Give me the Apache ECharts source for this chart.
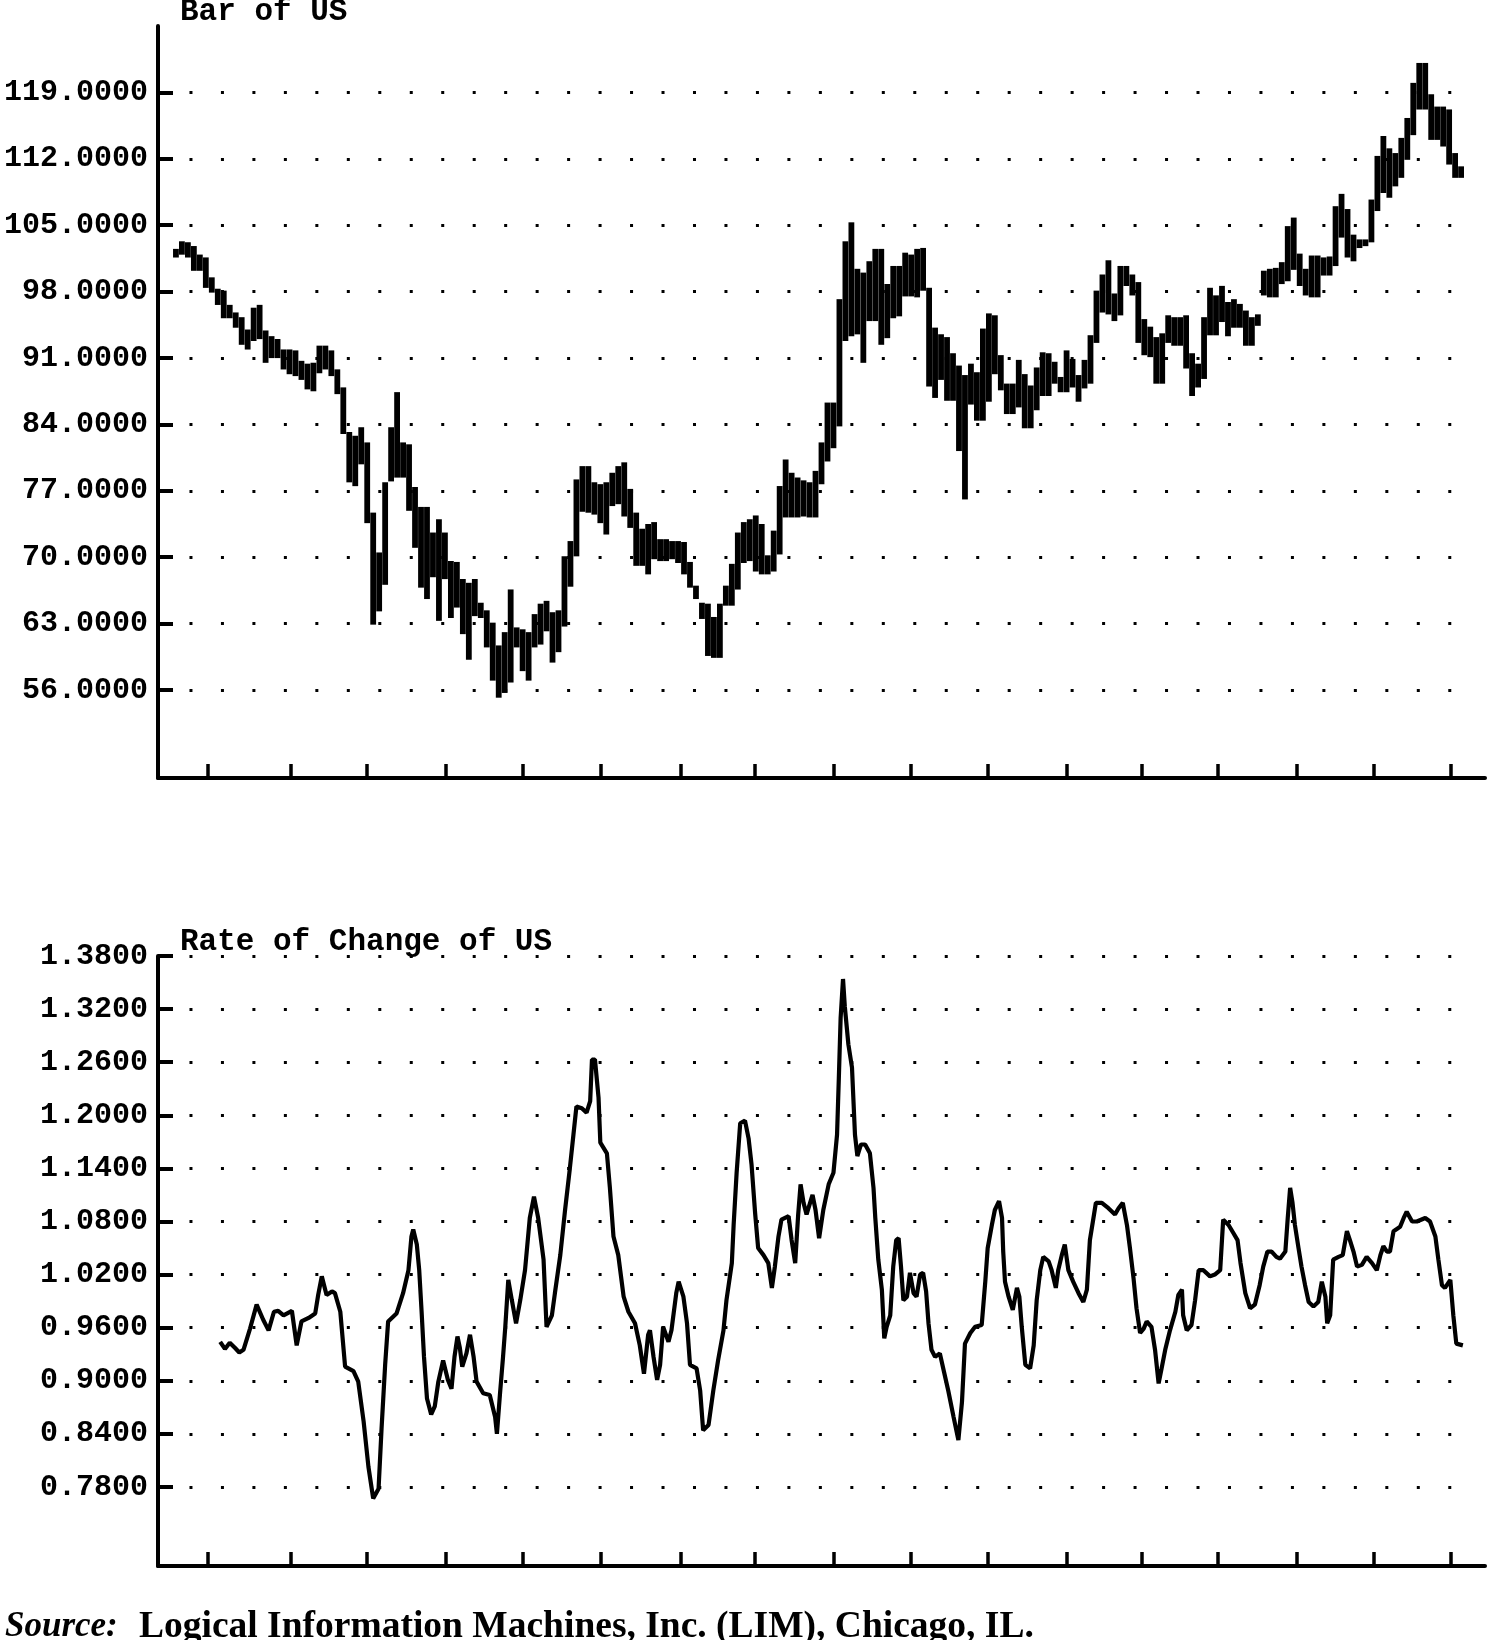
<!DOCTYPE html>
<html><head><meta charset="utf-8">
<script src="https://cdn.jsdelivr.net/npm/echarts@6/dist/echarts.min.js"></script>
<style>html,body{margin:0;padding:0;background:#fff}#c{width:1504px;height:1640px}</style>
</head><body><div id="c"></div>
<script>
// Weekly bars (week index 0..215): high / low prices
const barHigh = [102.4,103.2,103.1,102.7,101.8,101.5,99.4,98.2,98.0,96.5,95.7,95.2,93.9,96.2,96.5,93.8,93.2,92.9,91.8,91.8,
91.7,90.6,90.3,90.4,92.2,92.2,91.7,89.7,87.8,83.1,82.7,83.6,82.0,74.6,70.4,77.8,83.6,87.3,82.0,81.8,
77.3,75.2,75.2,72.5,73.9,72.5,69.5,69.4,67.6,67.2,67.6,65.1,64.3,63.0,60.6,62.0,66.5,62.5,62.3,62.0,
63.9,65.0,65.3,64.1,64.3,70.0,71.6,78.1,79.5,79.5,77.8,77.6,77.8,78.8,79.5,79.9,77.1,74.6,72.9,73.4,
73.6,71.8,71.8,71.6,71.6,71.5,69.4,66.9,65.1,65.0,63.6,65.0,66.9,69.2,72.5,73.6,73.9,74.3,73.4,70.1,
72.7,77.4,80.2,78.8,78.3,78.0,77.8,79.0,82.0,86.2,86.2,97.1,103.2,105.2,100.3,99.9,101.1,102.4,102.4,98.7,
100.6,100.6,102.0,101.8,102.4,102.5,98.3,94.1,93.4,93.1,91.4,90.1,89.1,90.3,89.4,94.0,95.6,95.4,91.2,88.2,
88.2,90.7,89.2,88.0,89.9,91.5,91.4,90.5,88.9,91.7,90.8,89.1,90.7,93.3,98.0,99.7,101.2,97.7,100.6,100.6,
99.7,98.9,95.0,94.2,93.1,93.5,95.4,95.2,95.2,95.4,91.4,90.3,95.2,98.3,97.5,98.5,96.8,97.1,96.6,95.9,
95.2,95.5,100.1,100.3,100.4,101.0,104.8,105.7,101.9,100.3,101.7,101.7,101.5,101.6,106.9,108.2,106.6,103.9,103.4,103.4,
107.6,112.2,114.3,113.0,112.5,114.1,116.2,119.9,122.0,122.0,118.7,117.4,117.4,117.1,112.5,111.1];
const barLow = [101.7,102.0,101.7,100.3,100.3,98.5,98.0,96.7,95.3,95.3,94.3,92.5,92.0,92.9,93.1,90.6,91.1,91.1,89.9,89.4,
89.2,88.8,87.8,87.6,89.5,89.9,89.2,87.3,83.1,78.0,77.6,79.9,73.7,63.0,64.4,67.2,78.1,78.5,78.5,75.0,
71.1,66.9,65.7,68.0,63.4,67.8,63.7,64.8,62.0,59.3,63.9,63.7,60.6,57.1,55.3,55.8,56.9,60.6,58.1,57.1,
60.6,60.9,62.3,59.0,60.1,62.8,67.0,70.2,74.9,74.8,74.6,73.7,72.5,75.5,75.7,74.4,73.2,69.2,69.2,68.3,
69.9,69.7,69.7,69.9,69.5,68.3,66.9,65.7,63.6,59.7,59.5,59.5,65.0,65.0,66.7,69.5,69.7,68.6,68.3,68.3,
68.6,70.4,74.3,74.3,74.3,74.4,74.3,74.3,77.8,80.2,81.6,83.9,92.9,93.4,93.6,90.6,95.0,95.0,92.5,93.2,
95.3,95.5,97.6,97.6,97.5,98.2,88.1,86.9,88.8,86.6,86.6,81.3,76.2,86.2,84.5,84.5,86.5,89.4,87.7,85.2,
85.2,85.9,83.7,83.7,85.6,87.1,87.1,88.4,87.5,87.5,88.0,86.5,87.9,88.4,92.7,95.9,95.7,95.0,95.6,98.7,
97.7,92.7,91.4,91.2,88.4,88.4,92.7,92.4,92.4,90.0,87.1,88.0,88.9,93.5,93.5,94.9,93.4,94.3,94.3,92.4,
92.4,94.5,97.7,97.5,97.5,98.9,99.2,100.4,98.7,97.7,97.5,97.5,99.8,99.8,100.8,103.8,101.7,101.3,102.7,102.9,
103.3,106.6,108.5,108.0,109.2,110.1,112.0,114.6,117.3,117.3,114.1,114.1,113.4,111.5,110.1,110.1];

// Rate of change (week position, value)
const rocWeek = [7.4,8.2,9.0,9.9,10.6,11.3,12.4,13.5,14.6,15.5,16.4,17.1,18.0,19.4,20.2,21.0,22.2,23.3,23.8,24.4,
25.2,26.1,26.6,27.5,28.3,29.7,30.5,31.4,32.2,33.0,33.9,34.4,35.0,35.5,36.9,38.0,38.9,39.4,39.7,40.3,
40.7,41.1,41.5,42.0,42.7,43.3,43.9,44.7,45.5,46.1,46.6,47.1,47.5,47.9,48.6,49.2,49.8,50.3,51.4,52.5,
53.4,53.7,54.2,54.7,55.1,55.6,56.2,56.9,57.6,58.4,59.2,59.9,60.6,61.5,62.0,62.9,63.4,64.3,65.1,65.9,
66.5,67.0,67.9,68.7,69.3,69.6,70.1,70.7,71.0,72.1,72.6,73.2,74.0,74.9,75.7,76.8,77.6,78.3,79.0,79.3,
79.9,80.5,81.0,81.5,82.4,82.9,83.7,84.1,84.9,85.5,86.0,87.1,87.7,88.2,89.1,89.9,90.7,91.6,92.1,93.0,
93.3,93.8,94.4,95.2,95.8,96.3,96.9,97.4,98.3,99.1,99.7,100.2,100.8,101.3,102.5,103.0,103.6,104.1,104.5,105.0,
105.5,106.5,107.0,107.6,108.3,109.2,110.0,110.6,110.9,111.2,111.6,111.9,112.5,113.1,113.6,114.0,114.6,115.3,116.1,116.7,
117.0,117.5,118.1,118.5,118.9,119.5,120.0,120.5,120.9,121.3,121.7,122.3,122.8,123.4,123.9,124.5,125.0,125.5,125.9,126.4,
127.0,127.8,128.5,129.2,130.1,130.9,131.5,132.0,132.9,133.7,134.8,135.4,135.8,136.5,137.0,137.7,138.2,138.4,138.7,139.3,
140.0,140.7,141.1,141.5,142.1,142.9,143.5,144.0,144.6,145.1,146.0,146.5,147.2,147.6,148.2,148.7,149.3,150.1,151.0,151.8,
152.4,152.9,153.5,153.9,154.9,156.0,157.1,157.7,158.4,159.1,159.6,160.2,160.7,161.3,161.9,162.4,163.2,163.8,164.4,164.9,
165.5,166.3,167.2,167.7,168.3,168.5,169.1,169.9,170.5,171.1,171.9,173.0,173.8,174.7,175.2,176.1,176.9,177.6,178.1,178.9,
179.7,180.5,181.3,181.9,182.6,183.3,184.1,184.7,185.6,186.0,186.4,186.8,187.2,187.8,188.3,188.9,189.5,190.3,191.1,191.7,
192.3,192.6,193.1,193.6,194.5,195.2,195.9,196.4,197.0,197.6,198.4,199.2,200.1,200.9,201.5,202.0,202.6,203.1,203.7,204.8,
205.4,205.9,206.8,207.6,209.0,209.8,210.7,211.2,211.8,212.3,213.2,213.7,214.2,215.3];
const rocValue = [0.944,0.936,0.943,0.937,0.932,0.935,0.959,0.986,0.969,0.957,0.978,0.979,0.974,0.979,0.940,0.967,0.971,0.976,0.997,1.018,
0.997,1.001,0.999,0.978,0.916,0.911,0.899,0.854,0.803,0.767,0.778,0.846,0.918,0.967,0.976,0.999,1.025,1.063,1.071,1.054,
1.025,0.978,0.927,0.880,0.862,0.871,0.899,0.923,0.901,0.891,0.927,0.950,0.937,0.916,0.931,0.952,0.927,0.899,0.886,0.884,
0.859,0.840,0.884,0.925,0.961,1.014,0.991,0.965,0.991,1.025,1.084,1.108,1.084,1.037,0.961,0.974,0.999,1.042,1.093,1.140,
1.178,1.210,1.208,1.203,1.216,1.263,1.263,1.220,1.169,1.157,1.118,1.063,1.042,0.995,0.978,0.965,0.940,0.908,0.952,0.957,
0.927,0.901,0.918,0.961,0.944,0.957,0.999,1.012,0.995,0.965,0.918,0.914,0.889,0.844,0.850,0.889,0.923,0.957,0.991,1.033,
1.076,1.135,1.191,1.194,1.174,1.144,1.089,1.050,1.042,1.033,1.005,1.029,1.063,1.082,1.086,1.059,1.033,1.088,1.122,1.101,
1.088,1.110,1.093,1.061,1.093,1.122,1.135,1.178,1.242,1.310,1.354,1.323,1.280,1.254,1.178,1.154,1.167,1.167,1.157,1.118,
1.084,1.037,1.003,0.948,0.961,0.974,1.029,1.059,1.061,1.029,0.991,0.995,1.022,0.999,0.995,1.020,1.022,1.001,0.965,0.935,
0.927,0.931,0.910,0.889,0.859,0.833,0.876,0.942,0.954,0.961,0.963,1.012,1.050,1.076,1.093,1.103,1.084,1.046,1.012,0.995,
0.980,1.005,0.995,0.961,0.918,0.914,0.940,0.991,1.025,1.040,1.035,1.025,1.005,1.025,1.042,1.054,1.025,1.012,0.999,0.989,
1.003,1.059,1.084,1.101,1.101,1.095,1.088,1.095,1.101,1.076,1.050,1.016,0.982,0.954,0.959,0.967,0.961,0.935,0.897,0.914,
0.935,0.957,0.978,0.997,1.003,0.974,0.957,0.963,0.991,1.025,1.025,1.018,1.020,1.025,1.082,1.076,1.067,1.059,1.033,0.999,
0.982,0.986,1.008,1.029,1.046,1.046,1.040,1.038,1.046,1.084,1.118,1.101,1.076,1.050,1.029,1.008,0.989,0.984,0.989,1.012,
0.995,0.965,0.974,1.037,1.040,1.042,1.069,1.059,1.046,1.029,1.031,1.040,1.033,1.025,1.042,1.052,1.046,1.046,1.069,1.074,
1.084,1.091,1.080,1.080,1.084,1.080,1.063,1.037,1.008,1.005,1.014,0.974,0.942,0.940];

// Axis ticks
const xTickWeeks = [5.37,19.25,31.97,45.18,58.07,71.12,84.50,96.88,110.10,122.98,135.87,149.08,161.63,174.35,187.56,200.45,213.33];
const priceTicks = [56,63,70,77,84,91,98,105,112,119];
const rocTicks = [0.78,0.84,0.90,0.96,1.02,1.08,1.14,1.20,1.26,1.32,1.38];

const barData = barHigh.map((h, i) => [i, barLow[i], h]);
const rocData = rocWeek.map((w, k) => [w, rocValue[k]]);

// dotted grid pattern: 42 dots then a long gap (dots stop short of the right edge)
const dotPattern = [];
for (let k = 0; k < 41; k++) { dotPattern.push(3, 28.47); }
dotPattern.push(3, 400);

const chart = echarts.init(document.getElementById('c'), null, {renderer: 'canvas'});
const monoFont = 'Liberation Mono';
function xAxisCfg(gi) {
  return {
    type: 'value', gridIndex: gi, min: -3, max: 219,
    axisLine: {show: true, onZero: false, lineStyle: {color: '#000', width: 4}},
    axisTick: {show: true, inside: true, length: 14, customValues: xTickWeeks, lineStyle: {color: '#000', width: 3.5}},
    axisLabel: {show: false},
    splitLine: {show: false}
  };
}
function yAxisCfg(gi, min, max, ticks, fmt) {
  return {
    type: 'value', gridIndex: gi, min: min, max: max,
    axisLine: {show: true, onZero: false, lineStyle: {color: '#000', width: 4}},
    axisTick: {show: true, inside: true, length: 15, customValues: ticks, lineStyle: {color: '#000', width: 4}},
    axisLabel: {show: true, customValues: ticks, formatter: v => v.toFixed(fmt), color: '#000',
      fontFamily: monoFont, fontSize: 30, fontWeight: 'bold', margin: 10},
    splitLine: {show: true, lineStyle: {color: '#000', width: 3, type: dotPattern}}
  };
}
chart.setOption({
  backgroundColor: '#fff',
  animation: false,
  grid: [
    {left: 158, top: 26, width: 1327, height: 752, outerBoundsMode: 'none', containLabel: false},
    {left: 158, top: 956, width: 1327, height: 610, outerBoundsMode: 'none', containLabel: false}
  ],
  xAxis: [xAxisCfg(0), xAxisCfg(1)],
  yAxis: [yAxisCfg(0, 46.73, 126, priceTicks, 4), yAxisCfg(1, 0.6907, 1.38, rocTicks, 4)],
  graphic: [
    {type: 'text', x: 180, y: 12, style: {text: 'Bar of US', fill: '#000', font: 'bold 31px "Liberation Mono"', textAlign: 'left', textVerticalAlign: 'middle'}},
    {type: 'text', x: 180, y: 942, style: {text: 'Rate of Change of US', fill: '#000', font: 'bold 31px "Liberation Mono"', textAlign: 'left', textVerticalAlign: 'middle'}},
    {type: 'text', x: 5, y: 1627, style: {text: 'Source:', fill: '#000', font: 'italic bold 35px "Liberation Serif"', textAlign: 'left', textVerticalAlign: 'middle'}},
    {type: 'text', x: 139, y: 1627, style: {text: 'Logical Information Machines, Inc. (LIM), Chicago, IL.', fill: '#000', font: 'bold 37.5px "Liberation Serif"', textAlign: 'left', textVerticalAlign: 'middle'}}
  ],
  series: [
    {
      type: 'custom', xAxisIndex: 0, yAxisIndex: 0, data: barData,
      encode: {x: 0, y: [1, 2]},
      renderItem: function (params, api) {
        const x = api.value(0), lo = api.value(1), hi = api.value(2);
        const p1 = api.coord([x, lo]), p2 = api.coord([x, hi]);
        return {type: 'line', shape: {x1: p1[0], y1: p1[1] + 1, x2: p2[0], y2: p2[1] - 1},
          style: {stroke: '#000', lineWidth: 5.8}};
      }
    },
    {
      type: 'line', xAxisIndex: 1, yAxisIndex: 1, data: rocData,
      showSymbol: false, symbol: 'none', smooth: false,
      lineStyle: {color: '#000', width: 4.2}
    }
  ]
});
</script>
</body></html>
